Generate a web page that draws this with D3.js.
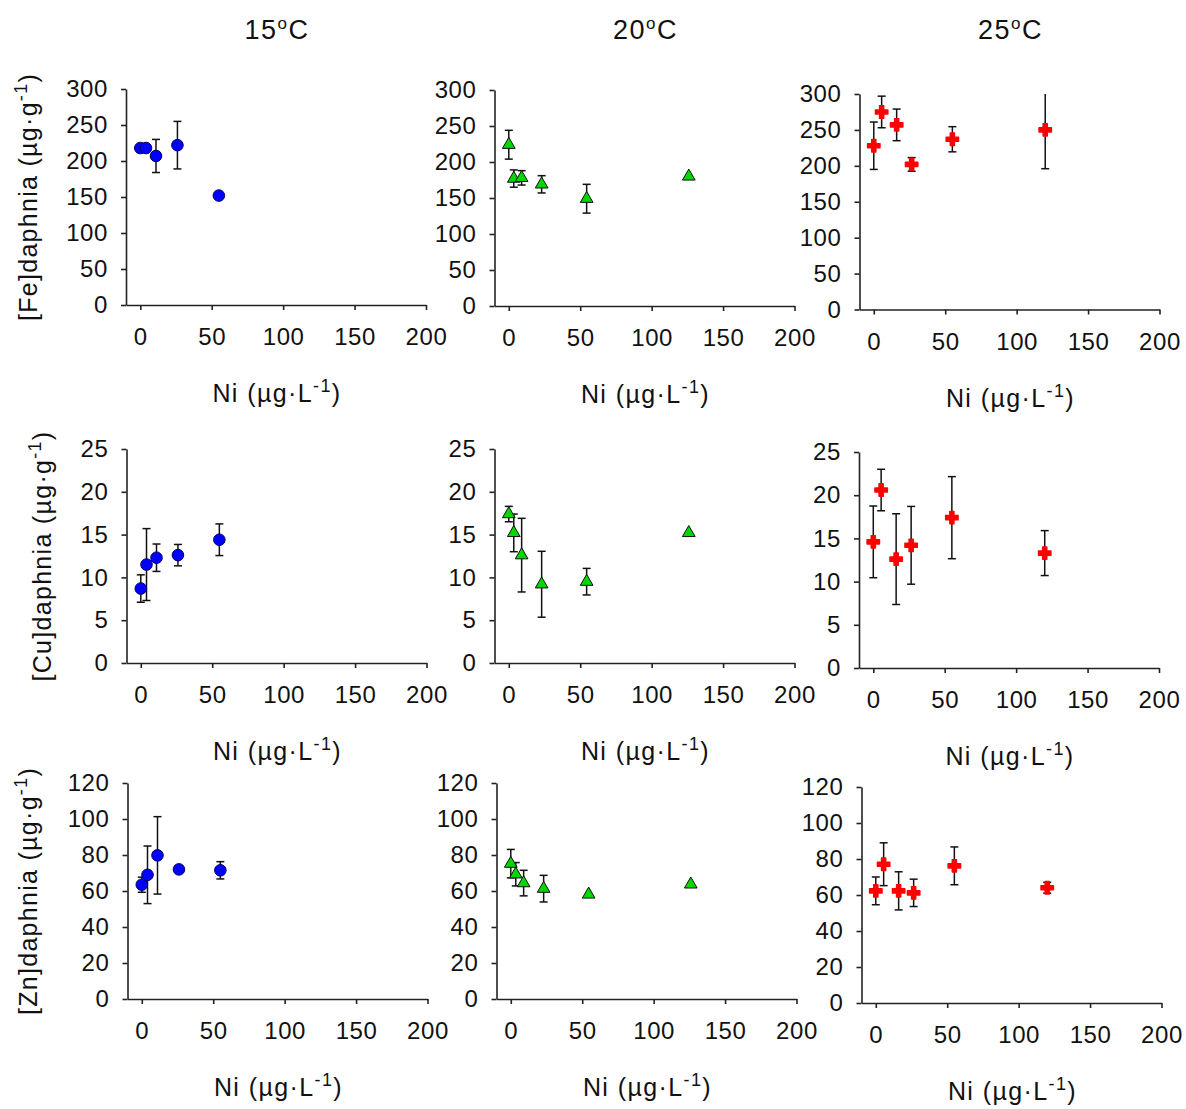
<!DOCTYPE html>
<html>
<head>
<meta charset="utf-8">
<script src="https://cdn.jsdelivr.net/npm/d3@7"></script>
<style>
  body { margin: 0; background: #fff; }
  text { font-family: Arial, "Liberation Sans", sans-serif; fill: #111; }
</style>
</head>
<body>
<div id="chart"></div>
<script>
// temperatures (columns) and metals (rows)
var temps = ["15", "20", "25"];
var metals = ["Fe", "Cu", "Zn"];

// Ni exposure (µg/L) per temperature
var ni15 = [0, 4, 11, 26, 55];
var ni20 = [0, 3.5, 9, 23, 54.5, 126];
var ni25 = [0, 5.5, 16, 26.5, 55, 120];

// [Fe]daphnia
var fe15 = [218, 218, 207, 222, 152];
var fe15Err = [0, 0, 23, 33, 0];
var fe20 = [224, 177, 178, 169, 149, 180];
var fe20Err = [20, 12, 10, 12, 20, 0];
var fe25 = [228, 275, 257, 202, 237, 250];
var fe25Err = [33, 22, 22, 9.5, 17.5, 54];

// [Cu]daphnia
var cu15 = [8.7, 11.5, 12.3, 12.6, 14.4];
var cu15Err = [1.6, 4.2, 1.6, 1.25, 1.85];
var cu20 = [17.4, 15.2, 12.6, 9.2, 9.5, 15.2];
var cu20Err = [0.9, 2.2, 4.3, 3.85, 1.55, 0];
var cu25 = [14.6, 20.6, 12.6, 14.2, 17.4, 13.3];
var cu25Err = [4.15, 2.4, 5.25, 4.5, 4.75, 2.6];

// [Zn]daphnia
var zn15 = [63.5, 69, 79.8, 72, 71.5];
var zn15Err = [4.2, 16, 21.5, 0, 4.8];
var zn20 = [75.2, 69.3, 64.4, 61.3, 58.1, 63.7];
var zn20Err = [7.9, 6.5, 7.1, 7.4, 0, 0];
var zn25 = [62.3, 77.1, 62.3, 61.2, 76.2, 64];
var zn25Err = [7.7, 11.9, 10.6, 7.6, 10.5, 3];

// axis ticks
var xTicks = [0, 50, 100, 150, 200];
var feTicks = [0, 50, 100, 150, 200, 250, 300];
var cuTicks = [0, 5, 10, 15, 20, 25];
var znTicks = [0, 20, 40, 60, 80, 100, 120];

var niByTemp = [ni15, ni20, ni25];
var values = [[fe15, fe20, fe25], [cu15, cu20, cu25], [zn15, zn20, zn25]];
var errors = [[fe15Err, fe20Err, fe25Err], [cu15Err, cu20Err, cu25Err], [zn15Err, zn20Err, zn25Err]];
var yTicks = [feTicks, cuTicks, znTicks];

// layout of the 3x3 grid (pixel positions of each plot area)
var colLeft = [[126, 494.5, 859.5], [126.5, 494.5, 859], [127.5, 496.5, 861.5]];
var plotTop = [[89, 90, 94], [449, 449, 452], [783, 783, 787]];
var plotBottom = [[305, 306, 309.5], [663, 663, 668], [999, 999, 1003]];
var plotW = 300;
var yLabelX = [37, 51, 37];

var colors = ["#0000ff", "#00d800", "#ff0000"];

var svg = d3.select("#chart")
  .append("svg")
    .attr("width", 1186)
    .attr("height", 1109);

// column titles
temps.forEach(function(t, c) {
  var cx = colLeft[0][c] + plotW / 2 + 1;
  var title = svg.append("text")
    .attr("x", cx)
    .attr("y", 39)
    .attr("text-anchor", "middle")
    .style("font-size", "27px")
    .style("letter-spacing", "1.5px");
  title.append("tspan").text(t);
  title.append("tspan").attr("dy", -10).style("font-size", "17px").text("o");
  title.append("tspan").attr("dy", 10).text("C");
});

function niLabel(sel) {
  sel.append("tspan").text("Ni (µg·L");
  sel.append("tspan").attr("dy", -10).style("font-size", "18px").text("-1");
  sel.append("tspan").attr("dy", 10).text(")");
}

metals.forEach(function(m, r) {
  temps.forEach(function(t, c) {
    var left = colLeft[r][c], top = plotTop[r][c], bottom = plotBottom[r][c];
    var ticks = yTicks[r];

    var x = d3.scaleLinear().domain([-10, 200]).range([left, left + plotW]);
    var y = d3.scaleLinear().domain([0, ticks[ticks.length - 1]]).range([bottom, top]);

    var g = svg.append("g");

    // axes
    g.append("g")
      .attr("class", "axis")
      .attr("transform", "translate(0," + bottom + ")")
      .call(d3.axisBottom(x).tickValues(xTicks).tickSize(5).tickSizeOuter(0).tickPadding(18));
    g.append("g")
      .attr("class", "axis")
      .attr("transform", "translate(" + left + ",0)")
      .call(d3.axisLeft(y).tickValues(ticks).tickSize(5).tickSizeOuter(0).tickPadding(13));

    g.selectAll(".axis path, .axis line")
      .attr("stroke", "#222")
      .attr("stroke-width", 1.6);
    g.selectAll(".axis text")
      .style("font-size", "24px")
      .style("letter-spacing", "0.6px")
      .attr("fill", "#111");

    // points
    var pts = niByTemp[c].map(function(n, i) {
      return { x: n, y: values[r][c][i], e: errors[r][c][i] };
    });

    // error bars (clipped to the axis range)
    var ymax = ticks[ticks.length - 1];
    pts.filter(function(d) { return d.e > 0; }).forEach(function(d) {
      var hi = Math.min(d.y + d.e, ymax), lo = Math.max(d.y - d.e, 0);
      var px = x(d.x);
      g.append("line")
        .attr("x1", px).attr("x2", px)
        .attr("y1", y(hi)).attr("y2", y(lo))
        .attr("stroke", "#111").attr("stroke-width", 1.5);
      if (d.y + d.e <= ymax) {
        g.append("line")
          .attr("x1", px - 4).attr("x2", px + 4)
          .attr("y1", y(hi)).attr("y2", y(hi))
          .attr("stroke", "#111").attr("stroke-width", 1.5);
      }
      g.append("line")
        .attr("x1", px - 4).attr("x2", px + 4)
        .attr("y1", y(lo)).attr("y2", y(lo))
        .attr("stroke", "#111").attr("stroke-width", 1.5);
    });

    // markers
    if (c == 0) {
      g.selectAll("circle")
        .data(pts)
        .enter()
        .append("circle")
          .attr("cx", function(d) { return x(d.x); })
          .attr("cy", function(d) { return y(d.y); })
          .attr("r", 5.8)
          .attr("fill", colors[0])
          .attr("stroke", "#000060")
          .attr("stroke-width", 1);
    } else if (c == 1) {
      g.selectAll(".tri")
        .data(pts)
        .enter()
        .append("path")
          .attr("class", "tri")
          .attr("d", d3.symbol().type(d3.symbolTriangle).size(70))
          .attr("transform", function(d) { return "translate(" + x(d.x) + "," + y(d.y) + ")"; })
          .attr("fill", colors[1])
          .attr("stroke", "#111")
          .attr("stroke-width", 1);
    } else {
      g.selectAll(".cross")
        .data(pts)
        .enter()
        .append("path")
          .attr("class", "cross")
          .attr("d", d3.symbol().type(d3.symbolCross).size(85))
          .attr("transform", function(d) { return "translate(" + x(d.x) + "," + y(d.y) + ")"; })
          .attr("fill", colors[2])
          .attr("stroke", colors[2])
          .attr("stroke-width", 1.5)
          .attr("stroke-linejoin", "round");
    }

    // x label
    var xl = g.append("text")
      .attr("x", left + plotW / 2 + 1)
      .attr("y", bottom + 97)
      .attr("text-anchor", "middle")
      .style("font-size", "25px")
      .style("letter-spacing", "1.4px");
    niLabel(xl);

    // y label on first column
    if (c == 0) {
      var cy = (top + bottom) / 2;
      var yl = g.append("text")
        .attr("transform", "translate(" + yLabelX[r] + "," + cy + ")rotate(-90)")
        .attr("text-anchor", "middle")
        .style("font-size", "25px")
        .style("letter-spacing", "1.3px");
      yl.append("tspan").text("[" + m + "]daphnia (µg·g");
      yl.append("tspan").attr("dy", -10).style("font-size", "18px").text("-1");
      yl.append("tspan").attr("dy", 10).text(")");
    }
  });
});
</script>
</body>
</html>
